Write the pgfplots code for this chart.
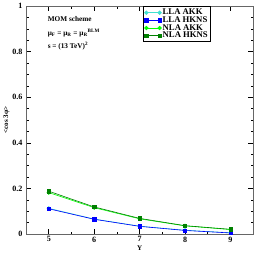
\documentclass[border=0pt]{standalone}
\usepackage{pgfplots}
\pgfplotsset{compat=1.18}
\usepackage{fontspec}
\setmainfont{Liberation Serif}
\definecolor{cturq}{RGB}{64,224,208}
\definecolor{cblue}{RGB}{0,0,255}
\definecolor{cgreen}{RGB}{0,255,0}
\definecolor{cdgreen}{RGB}{0,128,0}
\begin{document}
\begin{tikzpicture}
\begin{axis}[
  scale only axis, width=224bp, height=225bp,
  xmin=4.5, xmax=9.5, ymin=0, ymax=1,
  xtick={5,6,7,8,9}, ytick={0,0.2,0.4,0.6,0.8,1},
  yticklabels={0,0.2,0.4,0.6,0.8,1},
  minor x tick num=1, minor y tick num=3,
  tick align=inside, major tick length=5bp, minor tick length=2.5bp,
  axis line style={gray!80!black, line width=0.8pt},
  tick style={black, line width=0.6pt},
  ticklabel style={font=\fontsize{8}{9}\selectfont\bfseries},
  xticklabel style={yshift=1bp},
  /pgf/number format/assume math mode=true,
  xlabel={\bfseries Y}, ylabel={\bfseries <cos 3φ>},
  label style={font=\fontsize{7}{8}\selectfont},
  xlabel style={yshift=3bp}, ylabel style={yshift=-4bp},
  legend style={at={(0.516,0.998)}, anchor=north west, font=\fontsize{8.6}{9}\selectfont\bfseries,
    draw=black, line width=0.6pt, inner sep=1pt, row sep=-2.2pt, nodes={inner sep=1.3pt}},
  legend cell align=left,
  legend image code/.code={\draw[mark repeat=2,mark phase=1,#1] plot coordinates {(0bp,0bp)(6.5bp,0bp)(13bp,0bp)};},
  every axis plot/.append style={line width=0.6pt},
]
\addplot[cturq, mark=*, mark size=1.8pt] coordinates {(5,0.113)(6,0.066)(7,0.035)(8,0.017)(9,0.006)};
\addlegendentry{LLA AKK}
\addplot[cblue, mark=square*, mark size=1.6pt] coordinates {(5,0.111)(6,0.065)(7,0.034)(8,0.016)(9,0.005)};
\addlegendentry{LLA HKNS}
\addplot[cgreen, mark=*, mark size=1.8pt] coordinates {(5,0.182)(6,0.116)(7,0.067)(8,0.036)(9,0.020)};
\addlegendentry{NLA AKK}
\addplot[cdgreen, mark=square*, mark size=1.6pt] coordinates {(5,0.188)(6,0.119)(7,0.069)(8,0.037)(9,0.021)};
\addlegendentry{NLA HKNS}
\node[anchor=west, font=\fontsize{7.2}{8}\selectfont\bfseries] at (axis description cs:0.08,0.942) {MOM scheme};
\node[anchor=west, font=\fontsize{7.2}{8}\selectfont\bfseries] at (axis description cs:0.08,0.883) {μ\textsubscript{F} = μ\textsubscript{R} = μ\textsubscript{R}\textsuperscript{BLM}};
\node[anchor=west, font=\fontsize{7.2}{8}\selectfont\bfseries] at (axis description cs:0.08,0.824) {s = (13 TeV)\textsuperscript{2}};
\end{axis}
\end{tikzpicture}
\end{document}
